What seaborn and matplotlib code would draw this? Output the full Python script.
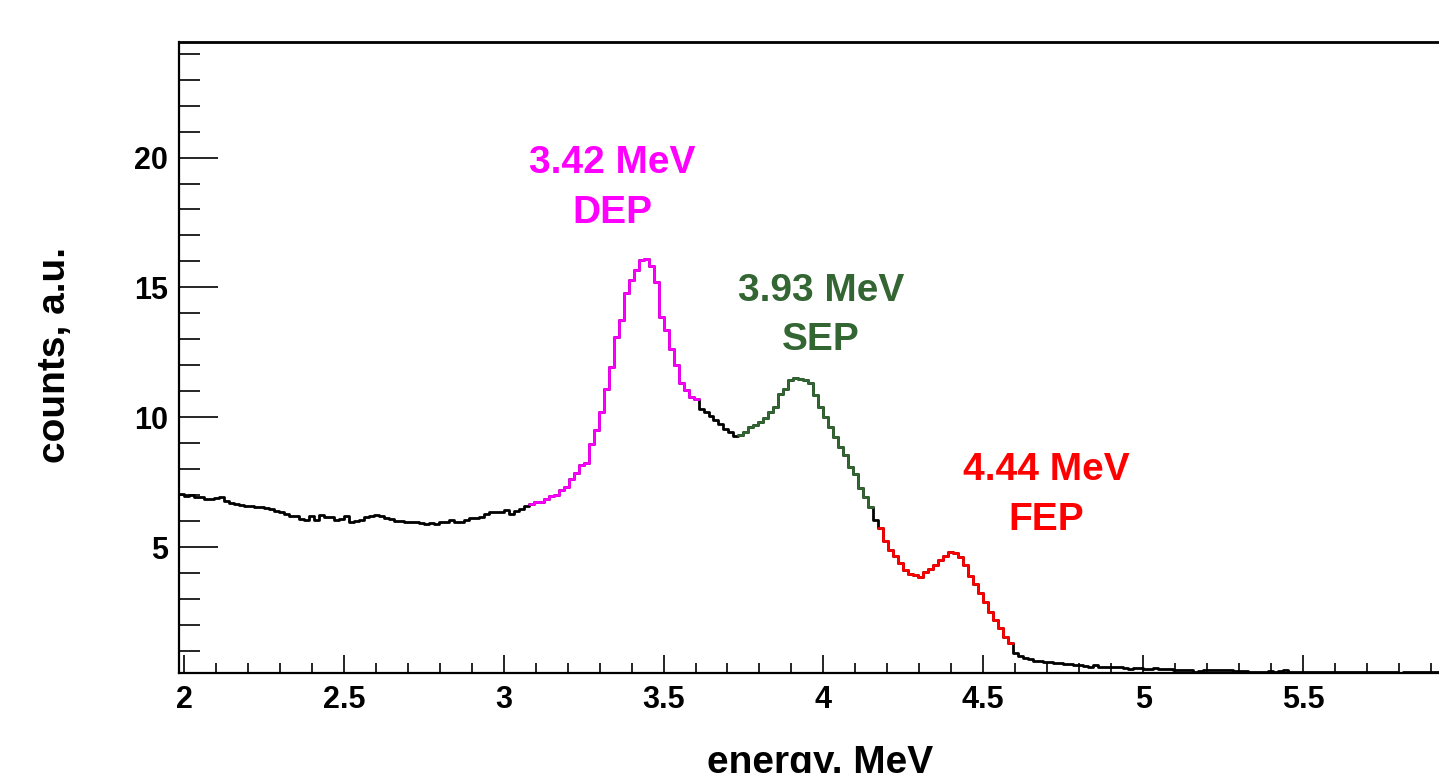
import numpy as np
import pandas as pd
import matplotlib
matplotlib.use("Agg")
import matplotlib.pyplot as plt
import seaborn as sns
from matplotlib.ticker import MultipleLocator, FuncFormatter

# ---------------- data (histogram bins of width 1/64 MeV) ----------------
bin_start = 1.984375
bin_width = 0.015625

counts_left = [7.05, 6.98, 7.00, 6.93, 6.92, 6.85, 6.86, 6.88, 6.93, 6.78,
               6.70, 6.64, 6.63, 6.58, 6.58, 6.54, 6.54, 6.52, 6.46, 6.40,
               6.34, 6.28, 6.20, 6.18, 6.07, 6.06, 6.20, 6.04, 6.22, 6.16,
               6.15, 6.06, 6.07, 6.20, 5.98, 6.00, 6.04, 6.14, 6.18, 6.24,
               6.20, 6.12, 6.08, 6.02, 6.00, 5.98, 5.97, 5.95, 5.92, 5.90,
               5.92, 5.90, 5.95, 5.97, 6.04, 5.98, 5.97, 6.06, 6.10, 6.13,
               6.14, 6.27, 6.34, 6.36, 6.36, 6.42, 6.27, 6.40, 6.45, 6.58]
counts_dep = [6.65, 6.74, 6.74, 6.87, 6.96, 7.00, 7.19, 7.32, 7.64, 7.85,
              8.15, 8.22, 8.95, 9.50, 10.20, 11.10, 11.93, 13.09, 13.76, 14.78,
              15.30, 15.68, 16.04, 16.10, 15.81, 15.20, 13.86, 13.35, 12.64, 12.00,
              11.32, 11.04, 10.76, 10.72]
counts_mid = [10.33, 10.20, 10.05, 9.88, 9.72, 9.56, 9.43, 9.28]
counts_sep = [9.30, 9.43, 9.63, 9.69, 9.82, 9.97, 10.20, 10.40, 10.91, 11.10,
              11.42, 11.51, 11.48, 11.42, 11.33, 10.87, 10.40, 10.01, 9.63, 9.24,
              8.86, 8.55, 8.09, 7.80, 7.26, 6.94, 6.55]
counts_gap = [6.04]
counts_fep = [5.75, 5.25, 4.88, 4.65, 4.37, 4.12, 3.96, 3.94, 3.86, 4.05,
              4.15, 4.30, 4.52, 4.66, 4.80, 4.78, 4.62, 4.30, 3.90, 3.58,
              3.25, 2.90, 2.50, 2.18, 1.88, 1.55, 1.30]
counts_tail = [0.93, 0.80, 0.71, 0.67, 0.63, 0.62, 0.59, 0.59, 0.55, 0.53,
               0.51, 0.50, 0.47, 0.45, 0.41, 0.40, 0.45, 0.40, 0.40, 0.38,
               0.37, 0.37, 0.33, 0.29, 0.36, 0.33, 0.29, 0.31, 0.35, 0.30,
               0.29, 0.29, 0.27, 0.27, 0.27, 0.25, 0.20, 0.24, 0.27, 0.27,
               0.26, 0.26, 0.26, 0.25, 0.21, 0.21, 0.21, 0.20, 0.17, 0.20,
               0.20, 0.21, 0.20, 0.22, 0.27, 0.20, 0.20, 0.19, 0.19, 0.20,
               0.19, 0.18, 0.19, 0.19, 0.18, 0.19, 0.18, 0.18, 0.19, 0.18,
               0.17, 0.18, 0.18, 0.18, 0.17, 0.18, 0.18, 0.16, 0.17, 0.18,
               0.17, 0.17, 0.18, 0.17, 0.17, 0.17]

peak_energies = ["3.42 MeV", "3.93 MeV", "4.44 MeV"]
peak_names = ["DEP", "SEP", "FEP"]

x_tick_values = [2, 2.5, 3, 3.5, 4, 4.5, 5, 5.5]
y_tick_values = [5, 10, 15, 20]

# ---------------- styling ----------------
sns.set_style("ticks")
plt.rcParams["font.family"] = ["Liberation Sans", "DejaVu Sans"]
plt.rcParams["font.weight"] = "bold"
plt.rcParams["text.color"] = "black"
plt.rcParams["xtick.color"] = "black"
plt.rcParams["ytick.color"] = "black"
plt.rcParams["axes.labelcolor"] = "black"

MAGENTA = "#ff00ff"
GREEN = "#336633"
RED = "#ff0000"

segments = [(counts_left, "black"), (counts_dep, MAGENTA), (counts_mid, "black"),
            (counts_sep, GREEN), (counts_gap, "black"), (counts_fep, RED),
            (counts_tail, "black")]

counts = np.concatenate([np.asarray(s, float) for s, _ in segments])
n = len(counts)
edges = bin_start + bin_width * np.arange(n + 1)
centers = edges[:-1] + bin_width / 2
seg_id = np.concatenate([np.full(len(s), i) for i, (s, _) in enumerate(segments)])
df = pd.DataFrame({"energy": centers, "counts": counts, "seg": seg_id})

W, H = 1439, 773
fig = plt.figure(figsize=(W / 100, H / 100), dpi=100)
px_per_unit = 319.7
x_lo, x_hi = bin_start, 6.0
ax_left = 179
ax_right = ax_left + (x_hi - x_lo) * px_per_unit
ax_top, ax_bot = 42, 673
ax = fig.add_axes([ax_left / W, (H - ax_bot) / H, (ax_right - ax_left) / W, (ax_bot - ax_top) / H])

LW = 2.0
sns.histplot(data=df, x="energy", weights="counts", bins=[float(e) for e in edges],
             element="step", fill=False, color="black", linewidth=LW, ax=ax, zorder=2)
for i, (s, col) in enumerate(segments):
    if col == "black":
        continue
    idx = np.where(seg_id == i)[0]
    sub = df.iloc[idx]
    sub_edges = [float(e) for e in edges[idx[0]:idx[-1] + 2]]
    sns.histplot(data=sub, x="energy", weights="counts", bins=sub_edges,
                 element="step", fill=False, color=col, linewidth=LW, ax=ax, zorder=3)

ax.set_xlim(x_lo, x_hi)
ax.set_ylim(0.15, 24.45)
ax.set_xlabel("")
ax.set_ylabel("")

ax.set_xticks(x_tick_values)
ax.xaxis.set_minor_locator(MultipleLocator(0.1))
ax.set_yticks(y_tick_values)
ax.yaxis.set_minor_locator(MultipleLocator(1))
fmt = FuncFormatter(lambda v, p: f"{v:g}")
ax.xaxis.set_major_formatter(fmt)
ax.yaxis.set_major_formatter(fmt)

ax.tick_params(axis="x", which="major", direction="in", length=13, width=1.2,
               labelsize=22, pad=9, top=False, bottom=True, colors="black")
ax.tick_params(axis="x", which="minor", direction="in", length=7, width=1.2,
               top=False, bottom=True, colors="black")
ax.tick_params(axis="y", which="major", direction="in", length=28, width=1.2,
               labelsize=22, pad=8, right=False, left=True, colors="black")
ax.tick_params(axis="y", which="minor", direction="in", length=15, width=1.2,
               right=False, left=True, colors="black")
for lab in ax.get_xticklabels() + ax.get_yticklabels():
    lab.set_fontweight("bold")

for side in ["top", "left", "bottom", "right"]:
    ax.spines[side].set_visible(True)
    ax.spines[side].set_color("black")
ax.spines["top"].set_linewidth(2.0)
ax.spines["left"].set_linewidth(1.6)
ax.spines["bottom"].set_linewidth(1.6)
ax.spines["right"].set_linewidth(1.6)

# peak annotations
ann_pos = [(3.339, 19.8, 17.88, MAGENTA), (3.992, 14.88, 12.96, GREEN), (4.696, 7.96, 6.04, RED)]
for (e_txt, n_txt), (xc, y1, y2, col) in zip(zip(peak_energies, peak_names), ann_pos):
    ax.text(xc, y1, e_txt, color=col, fontsize=28, fontweight="bold", ha="center", va="center")
    ax.text(xc, y2, n_txt, color=col, fontsize=28, fontweight="bold", ha="center", va="center")

fig.text(55 / W, 1 - 355 / H, "counts, a.u.", rotation=90, fontsize=28, fontweight="bold",
         ha="center", va="center", color="black")
fig.text(820 / W, 0.0, "energy, MeV", fontsize=28, fontweight="bold", ha="center",
         va="baseline", color="black")

fig.savefig("out.png", dpi=100)
